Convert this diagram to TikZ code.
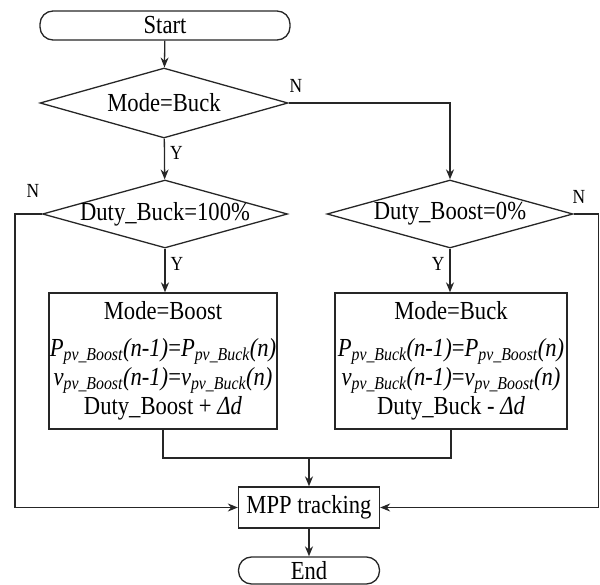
\documentclass[tikz,border=0pt]{standalone}
\usepackage{fontspec}
\setmainfont[FakeStretch=0.87]{Liberation Serif}
\usetikzlibrary{shapes.geometric,arrows.meta}
\newcommand\mysb[1]{\textsubscript{\itshape #1}}
\begin{document}
\begin{tikzpicture}[x=1pt,y=-1pt,
  line width=1.3pt, draw=black!85,
  every node/.style={font=\fontsize{26}{28}\selectfont, inner sep=0pt},
  term/.style={draw, rounded corners=13pt, minimum width=#1},
  dia/.style={draw, diamond, aspect=3.5, minimum width=#1, minimum height=68pt},
  proc/.style={draw, rectangle, align=center},
  arr/.style={-{Stealth[length=10pt,width=8pt]}},
  lab/.style={font=\fontsize{20}{22}\selectfont}]
\useasboundingbox (0,0) rectangle (600,585);

\node[term=250pt, minimum height=29pt] (start) at (165,25.5) {Start};
\node[dia=248pt, minimum height=70pt, label={center:Mode=Buck}] (d1) at (164,103) {};
\node[dia=245pt, label={center:Duty\_Buck=100\%}] (d2) at (165,214) {};
\node[dia=246pt, label={center:Duty\_Boost=0\%}] (d3) at (450,214) {};
\node[proc, minimum width=228pt, minimum height=136pt, font=\fontsize{26}{29}\selectfont] (b1) at (163,361) {%
  Mode=Boost\\[8pt]
  \textit{P}\mysb{pv\_Boost}\textit{(n-1)}=\textit{P}\mysb{pv\_Buck}\textit{(n)}\\
  \textit{v}\mysb{pv\_Boost}\textit{(n-1)}=\textit{v}\mysb{pv\_Buck}\textit{(n)}\\
  Duty\_Boost + \textit{Δd}};
\node[proc, minimum width=232pt, minimum height=136pt, font=\fontsize{26}{29}\selectfont] (b2) at (451,361) {%
  Mode=Buck\\[8pt]
  \textit{P}\mysb{pv\_Buck}\textit{(n-1)}=\textit{P}\mysb{pv\_Boost}\textit{(n)}\\
  \textit{v}\mysb{pv\_Buck}\textit{(n-1)}=\textit{v}\mysb{pv\_Boost}\textit{(n)}\\
  Duty\_Buck - \textit{Δd}};
\node[proc, minimum width=141pt, minimum height=41pt] (mpp) at (309,507.5) {MPP tracking};
\node[term=141pt, minimum height=27pt] (end) at (309,570.5) {End};

\coordinate (m) at (309,458);

\draw[arr] (start) -- (d1);
\draw[arr] (d1) -- node[lab, right=5pt, pos=0.35] {Y} (d2);
\draw[arr] (d1.east) -| (d3.north);
\node[lab] at (296,86) {N};
\draw[arr] (d2.west) -- ++(-27,0) |- (mpp.west);
\node[lab] at (33,191) {N};
\draw[arr] (d3.east) -- ++(25,0) |- (mpp.east);
\node[lab] at (579,197) {N};
\draw[arr] (d2) -- node[lab, right=5pt, pos=0.35] {Y} (b1.north -| d2);
\draw[arr] (d3) -- node[lab, left=5pt, pos=0.35] {Y} (b2.north -| d3);
\draw (b1.south) |- (m) -| (b2.south);
\draw[arr] (m) -- (mpp);
\draw[arr] (mpp) -- (end);
\end{tikzpicture}
\end{document}
